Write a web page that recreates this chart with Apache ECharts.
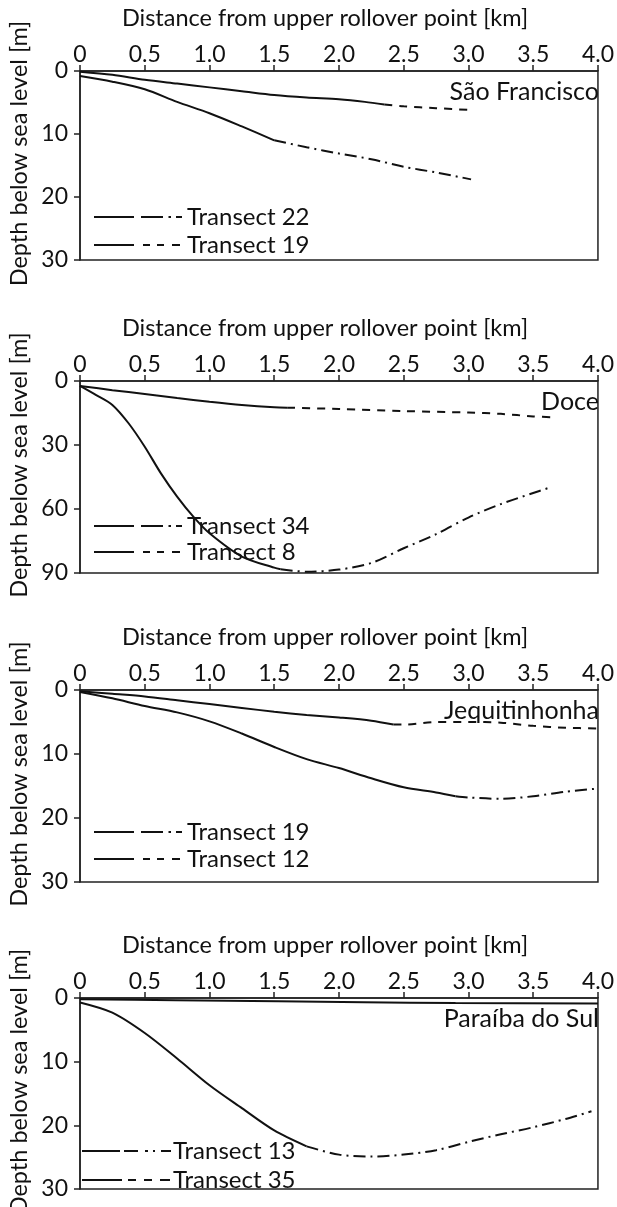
<!DOCTYPE html>
<html><head><meta charset="utf-8">
<script src="https://cdn.jsdelivr.net/npm/echarts@6/dist/echarts.min.js"></script>
<style>html,body{margin:0;padding:0;background:#fff}#c{width:617px;height:1207px}</style>
</head><body><div id="c"></div><script>
// ---------- DATA ----------
const xTickLabels = ['0','0.5','1.0','1.5','2.0','2.5','3.0','3.5','4.0'];
const panelNames = ['São Francisco','Doce','Jequitinhonha','Paraíba do Sul'];
const depthMax = [30, 90, 30, 30];
const depthStep = [10, 30, 10, 10];
const legendNames = [
  ['Transect 22','Transect 19'],
  ['Transect 34','Transect 8'],
  ['Transect 19','Transect 12'],
  ['Transect 13','Transect 35']
];
// São Francisco: [distance km, depth m]
const sf19Solid  = [[0,0.1],[0.25,0.6],[0.5,1.4],[0.75,2.0],[1.0,2.6],[1.25,3.2],[1.5,3.8],[1.75,4.2],[2.0,4.5],[2.2,4.9],[2.35,5.3]];
const sf19Dashed = [[2.35,5.3],[2.5,5.6],[2.75,5.9],[3.03,6.2]];
const sf22Solid  = [[0,0.8],[0.25,1.7],[0.5,2.9],[0.75,4.9],[1.0,6.7],[1.25,8.8],[1.5,11.0]];
const sf22DashDot= [[1.5,11.0],[1.75,12.1],[2.0,13.1],[2.25,14.0],[2.5,15.2],[2.75,16.1],[3.02,17.2]];
// Doce
const dc8Solid   = [[0,2.3],[0.25,4.3],[0.5,6.1],[0.75,8.0],[1.0,9.7],[1.25,11.2],[1.5,12.3],[1.6,12.5]];
const dc8Dashed  = [[1.6,12.5],[2.0,13.1],[2.5,14.1],[3.0,14.8],[3.25,15.4],[3.5,16.6],[3.66,17.0]];
const dc34Solid  = [[0,2.3],[0.125,6.6],[0.25,11.2],[0.375,19.8],[0.5,30.8],[0.625,43.3],[0.75,54.2],[0.875,63.6],[1.0,71.4],[1.25,82.3],[1.5,87.5],[1.55,88.2]];
const dc34DashDot= [[1.55,88.2],[1.75,89.4],[2.0,88.4],[2.25,85.3],[2.5,78.4],[2.75,71.8],[3.0,64.0],[3.25,57.7],[3.5,52.5],[3.61,50.3]];
// Jequitinhonha
const jq12Solid  = [[0,0.2],[0.25,0.6],[0.5,1.0],[0.75,1.6],[1.0,2.2],[1.25,2.8],[1.5,3.4],[1.75,3.9],[2.0,4.3],[2.25,4.8],[2.42,5.4]];
const jq12Dashed = [[2.42,5.4],[2.5,5.4],[2.75,5.0],[3.0,5.0],[3.25,5.1],[3.5,5.6],[3.75,5.9],[4.0,6.0]];
const jq19Solid  = [[0,0.3],[0.25,1.3],[0.5,2.5],[0.75,3.5],[1.0,4.9],[1.25,6.8],[1.5,8.9],[1.75,10.8],[2.0,12.2],[2.25,13.8],[2.5,15.2],[2.75,16.0],[2.9,16.6]];
const jq19DashDot= [[2.9,16.6],[3.0,16.8],[3.25,17.0],[3.5,16.6],[3.75,15.9],[4.0,15.4]];
// Paraíba do Sul
const ps35Solid  = [[0,0.2],[0.74,0.35],[1.53,0.5],[2.19,0.65],[2.9,0.8],[4.0,0.85]];
const ps13Solid  = [[0,0.7],[0.25,2.3],[0.5,5.5],[0.75,9.5],[1.0,13.7],[1.25,17.3],[1.5,20.8],[1.75,23.3]];
const ps13DashDot= [[1.75,23.3],[2.0,24.6],[2.25,24.9],[2.5,24.6],[2.75,23.9],[3.0,22.6],[3.25,21.4],[3.5,20.3],[3.75,19.0],[3.95,17.8]];

// ---------- LAYOUT / STYLE ----------
const FONT = 'Lato';
const INK = '#111';
const gridTops = [71, 381, 690, 998];
const gridHeights = [189, 192, 192, 191];
const GL = 80, GW = 524;
const DASH = [8, 7];
const DASHDOT = [12, 5, 2, 5];

const seriesDefs = [
  [0, sf19Solid, 'solid'], [0, sf19Dashed, DASH], [0, sf22Solid, 'solid'], [0, sf22DashDot, DASHDOT],
  [1, dc8Solid, 'solid'], [1, dc8Dashed, DASH], [1, dc34Solid, 'solid'], [1, dc34DashDot, DASHDOT],
  [2, jq12Solid, 'solid'], [2, jq12Dashed, DASH], [2, jq19Solid, 'solid'], [2, jq19DashDot, DASHDOT],
  [3, ps35Solid, 'solid'], [3, ps13Solid, 'solid'], [3, ps13DashDot, DASHDOT]
];

const grids = [], xAxes = [], yAxes = [], graphics = [];
for (let i = 0; i < 4; i++) {
  grids.push({left: GL, width: GW, top: gridTops[i], height: gridHeights[i], show: true,
    borderColor: '#222', borderWidth: 1.5, backgroundColor: 'transparent'});
  xAxes.push({type: 'value', gridIndex: i, position: 'top', min: 0, max: 4, interval: 0.5,
    axisLine: {show: true, lineStyle: {color: '#222', width: 1.5}},
    axisTick: {show: true, length: 6, lineStyle: {color: '#222', width: 1.5}},
    axisLabel: {show: true, margin: 5, fontSize: 23, color: INK, fontFamily: FONT,
      showMinLabel: true, showMaxLabel: true,
      formatter: v => xTickLabels[Math.round(v * 2)]},
    splitLine: {show: false}});
  yAxes.push({type: 'value', gridIndex: i, inverse: true, min: 0, max: depthMax[i], interval: depthStep[i],
    axisLine: {show: true, lineStyle: {color: '#222', width: 1.5}},
    axisTick: {show: true, length: 6, lineStyle: {color: '#222', width: 1.5}},
    axisLabel: {show: true, margin: 12, fontSize: 23, color: INK, fontFamily: FONT,
      showMinLabel: true, showMaxLabel: true},
    splitLine: {show: false}});
  const top = gridTops[i], h = gridHeights[i];
  // x-axis title
  graphics.push({type: 'text', x: 325, y: top - 53, style: {text: 'Distance from upper rollover point [km]',
    font: '23.5px ' + FONT, fill: INK, align: 'center', verticalAlign: 'middle'}});
  // y-axis name
  graphics.push({type: 'text', x: 19, y: top + h / 2 - 12, rotation: Math.PI / 2,
    style: {text: 'Depth below sea level [m]', font: '23.5px ' + FONT, fill: INK, align: 'center', verticalAlign: 'middle'}});
  // panel name
  graphics.push({type: 'text', x: 599, y: top + 21, style: {text: panelNames[i],
    font: '25px ' + FONT, fill: INK, align: 'right', verticalAlign: 'middle'}});
}

// legends (drawn samples: solid part, then dashed/dash-dot continuation)
function seg(x1, x2, y) {
  return {type: 'line', shape: {x1: x1, y1: y, x2: x2, y2: y}, style: {stroke: INK, lineWidth: 2}};
}
const legendRows = [[217, 245], [526, 552], [832, 859], [1151, 1180]];
for (let i = 0; i < 4; i++) {
  const [y1, y2] = legendRows[i];
  if (i < 3) {
    graphics.push(seg(94, 134, y1), seg(141, 163, y1), seg(168.5, 171, y1), seg(176, 182, y1));
    graphics.push(seg(94, 134, y2), seg(143, 150, y2), seg(157, 164, y2), seg(172, 180, y2));
    graphics.push({type: 'text', x: 187, y: y1, style: {text: legendNames[i][0], font: '24px ' + FONT, fill: INK, verticalAlign: 'middle'}});
    graphics.push({type: 'text', x: 187, y: y2, style: {text: legendNames[i][1], font: '24px ' + FONT, fill: INK, verticalAlign: 'middle'}});
  } else {
    graphics.push(seg(82, 120, y1), seg(124, 138, y1), seg(145, 148, y1), seg(153, 155, y1), seg(161, 171, y1));
    graphics.push(seg(82, 122, y2), seg(128, 136, y2), seg(144, 152, y2), seg(160, 170, y2));
    graphics.push({type: 'text', x: 173, y: y1, style: {text: legendNames[i][0], font: '24px ' + FONT, fill: INK, verticalAlign: 'middle'}});
    graphics.push({type: 'text', x: 173, y: y2, style: {text: legendNames[i][1], font: '24px ' + FONT, fill: INK, verticalAlign: 'middle'}});
  }
}

const series = seriesDefs.map(([g, d, t]) => ({
  type: 'line', xAxisIndex: g, yAxisIndex: g, data: d, showSymbol: false, symbol: 'none',
  smooth: 0.3, silent: true, animation: false,
  lineStyle: {color: INK, width: 2, type: t}
}));

const chart = echarts.init(document.getElementById('c'), null, {renderer: 'canvas'});
chart.setOption({
  animation: false,
  backgroundColor: '#fff',
  grid: grids, xAxis: xAxes, yAxis: yAxes, series: series, graphic: graphics
});
</script></body></html>
